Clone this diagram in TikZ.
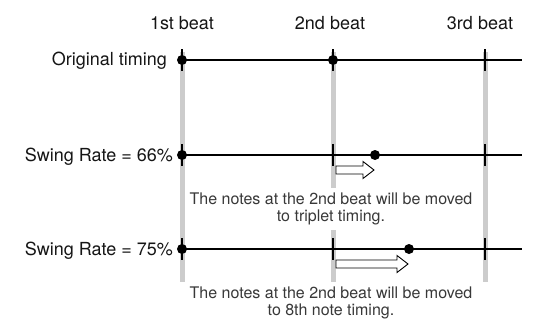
\documentclass[tikz,border=0pt]{standalone}
\usepackage{fontspec}
\setmainfont{TeX Gyre Heros}
\definecolor{guide}{HTML}{CCCCCC}
\definecolor{labtxt}{HTML}{151515}
\definecolor{captxt}{HTML}{383838}
\newcommand\SwArrow[3]{% tail x, tip x, centre y
  \draw[shiftarrow] (#1,#3-4) -- (#2-11,#3-4) -- (#2-11,#3-8.5) -- (#2,#3)
    -- (#2-11,#3+8.5) -- (#2-11,#3+4) -- (#1,#3+4) -- cycle;}
\begin{document}
\begin{tikzpicture}[x=1pt,y=-1pt,
  guideline/.style={line width=5pt,draw=guide},
  timeline/.style={line width=2.6pt,draw=black},
  tickmark/.style={line width=2.6pt,draw=black},
  dot/.style={circle,fill=black,inner sep=0pt,minimum size=10pt},
  beatlabel/.style={anchor=base,inner sep=0pt,text=labtxt,font=\fontsize{18}{20}\selectfont},
  rowlabel/.style={anchor=base east,inner sep=0pt,text=labtxt,font=\fontsize{18}{20}\selectfont},
  caption/.style={anchor=north,align=center,fill=white,inner xsep=2pt,inner ysep=5pt,
    text=captxt,font=\fontsize{16}{17}\selectfont},
  shiftarrow/.style={draw=black,fill=white,line width=0.9pt,line join=miter}]
\useasboundingbox (0,0) rectangle (534,321);

% beat labels
\node[beatlabel] (b1) at (182,29.5) {1st beat};
\node[beatlabel] (b2) at (330,29.5) {2nd beat};
\node[beatlabel] (b3) at (480,29.5) {3rd beat};

% guide columns
\coordinate (g1t) at (182,52); \coordinate (g1b) at (182,282);
\coordinate (g2t) at (333,52); \coordinate (g2b) at (333,282);
\coordinate (g3t) at (485,52); \coordinate (g3b) at (485,282);
\draw[guideline] (g1t) -- (g1b);
\draw[guideline] (g2t) -- (g2b);
\draw[guideline] (g3t) -- (g3b);

% captions (white background covers guides)
\node[caption] (cap1) at (331,188) {The notes at the 2nd beat will be moved\\to triplet timing.};
\node[caption] (cap2) at (331,282) {The notes at the 2nd beat will be moved\\to 8th note timing.};

% row labels
\node[rowlabel] (r1) at (167,65.5) {Original timing};
\node[rowlabel] (r2) at (173,161) {Swing Rate = 66\%};
\node[rowlabel] (r3) at (173,255) {Swing Rate = 75\%};

% timelines
\coordinate (l1s) at (182,60);  \coordinate (l1e) at (522,60);
\coordinate (l2s) at (182,155); \coordinate (l2e) at (522,155);
\coordinate (l3s) at (182,249); \coordinate (l3e) at (522,249);
\draw[timeline] (l1s) -- (l1e);
\draw[timeline] (l2s) -- (l2e);
\draw[timeline] (l3s) -- (l3e);

% ticks
\foreach \x/\yy in {182/60,333/60,485/60,182/155,333/155,485/155,182/249,333/249,485/249}
  \draw[tickmark] (\x,\yy-11) -- (\x,\yy+11);

% note dots
\node[dot] (n11) at (182,60) {};
\node[dot] (n12) at (333,60) {};
\node[dot] (n21) at (182,155) {};
\node[dot] (n22) at (375,155) {};
\node[dot] (n31) at (182,249) {};
\node[dot] (n32) at (409,249) {};

% shift arrows
\SwArrow{336}{374}{170}
\SwArrow{336}{408}{264}
\end{tikzpicture}
\end{document}
